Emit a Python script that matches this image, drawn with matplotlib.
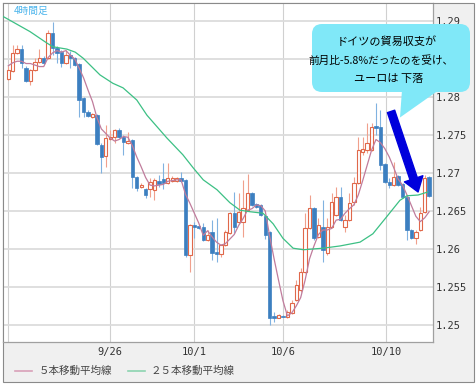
import numpy as np
import matplotlib.pyplot as plt
from matplotlib.patches import Rectangle, FancyBboxPatch, Polygon

plt.rcParams['font.family'] = ['Noto Sans CJK JP', 'DejaVu Sans']

# EUR/USD 4時間足
opens = [1.2824, 1.2834, 1.2858, 1.2863, 1.2838, 1.2821, 1.2836, 1.2846, 1.2851, 1.2851,
         1.2884, 1.2865, 1.2859, 1.2845, 1.2855, 1.2851, 1.2843, 1.2799, 1.2780, 1.2774,
         1.2776, 1.2737, 1.2722, 1.2745, 1.2747, 1.2757, 1.2747, 1.2740, 1.2743, 1.2695,
         1.2682, 1.2679, 1.2679, 1.2678, 1.2690, 1.2692, 1.2687, 1.2690, 1.2690, 1.2693,
         1.2691, 1.2592, 1.2632, 1.2630, 1.2629, 1.2612, 1.2622, 1.2596, 1.2593, 1.2605,
         1.2621, 1.2647, 1.2636, 1.2636, 1.2651, 1.2674, 1.2659, 1.2658, 1.2643, 1.2622,
         1.2512, 1.2509, 1.2512, 1.2511, 1.2516, 1.2533, 1.2546, 1.2570, 1.2628, 1.2654,
         1.2616, 1.2629, 1.2595, 1.2629, 1.2645, 1.2668, 1.2629, 1.2638, 1.2662, 1.2687,
         1.2728, 1.2730, 1.2730, 1.2762, 1.2761, 1.2712, 1.2688, 1.2684, 1.2696, 1.2686,
         1.2668, 1.2625, 1.2614, 1.2625, 1.2649, 1.2695]
closes = [1.2836, 1.2858, 1.2863, 1.2845, 1.2821, 1.2836, 1.2846, 1.2851, 1.2845, 1.2884,
          1.2865, 1.2858, 1.2845, 1.2855, 1.2851, 1.2842, 1.2796, 1.2780, 1.2775, 1.2778,
          1.2738, 1.2721, 1.2746, 1.2747, 1.2757, 1.2747, 1.2741, 1.2742, 1.2695, 1.2680,
          1.2684, 1.2671, 1.2688, 1.2691, 1.2686, 1.2687, 1.2693, 1.2693, 1.2693, 1.2690,
          1.2592, 1.2632, 1.2629, 1.2628, 1.2612, 1.2618, 1.2595, 1.2593, 1.2605, 1.2622,
          1.2647, 1.2629, 1.2649, 1.2654, 1.2674, 1.2658, 1.2655, 1.2645, 1.2618, 1.2509,
          1.2509, 1.2513, 1.2511, 1.2517, 1.2529, 1.2553, 1.2570, 1.2628, 1.2654, 1.2614,
          1.2632, 1.2599, 1.2629, 1.2662, 1.2668, 1.2638, 1.2638, 1.2661, 1.2687, 1.2730,
          1.2732, 1.2740, 1.2761, 1.2759, 1.2711, 1.2688, 1.2684, 1.2695, 1.2684, 1.2668,
          1.2625, 1.2614, 1.2622, 1.2647, 1.2693, 1.2670]
highs = [1.2841, 1.2868, 1.2868, 1.2868, 1.2841, 1.2837, 1.2851, 1.2863, 1.2854, 1.2888,
         1.2899, 1.2867, 1.2862, 1.2862, 1.2861, 1.2853, 1.2845, 1.2800, 1.2783, 1.2779,
         1.2778, 1.2740, 1.2763, 1.2757, 1.2758, 1.2759, 1.2750, 1.2754, 1.2745, 1.2696,
         1.2687, 1.2680, 1.2693, 1.2693, 1.2697, 1.2713, 1.2713, 1.2696, 1.2695, 1.2701,
         1.2692, 1.2633, 1.2636, 1.2632, 1.2634, 1.2625, 1.2638, 1.2641, 1.2607, 1.2625,
         1.2649, 1.2675, 1.2674, 1.2691, 1.2699, 1.2675, 1.2661, 1.2659, 1.2645, 1.2624,
         1.2517, 1.2515, 1.2513, 1.2520, 1.2533, 1.2559, 1.2575, 1.2647, 1.2671, 1.2655,
         1.2641, 1.2664, 1.2641, 1.2674, 1.2682, 1.2682, 1.2645, 1.2674, 1.2695, 1.2747,
         1.2747, 1.2766, 1.2766, 1.2792, 1.2783, 1.2713, 1.2693, 1.2715, 1.2697, 1.2687,
         1.2670, 1.2626, 1.2625, 1.2655, 1.2697, 1.2696]
lows = [1.2822, 1.2833, 1.2857, 1.2838, 1.2820, 1.2816, 1.2834, 1.2845, 1.2843, 1.2850,
        1.2855, 1.2845, 1.2840, 1.2843, 1.2838, 1.2841, 1.2774, 1.2774, 1.2774, 1.2772,
        1.2737, 1.2700, 1.2708, 1.2743, 1.2740, 1.2746, 1.2724, 1.2738, 1.2680, 1.2676,
        1.2680, 1.2667, 1.2668, 1.2665, 1.2682, 1.2679, 1.2686, 1.2688, 1.2688, 1.2688,
        1.2590, 1.2570, 1.2615, 1.2626, 1.2611, 1.2611, 1.2586, 1.2583, 1.2590, 1.2604,
        1.2620, 1.2621, 1.2634, 1.2616, 1.2650, 1.2657, 1.2654, 1.2643, 1.2613, 1.2500,
        1.2504, 1.2509, 1.2510, 1.2509, 1.2514, 1.2532, 1.2543, 1.2568, 1.2626, 1.2612,
        1.2614, 1.2583, 1.2592, 1.2628, 1.2643, 1.2637, 1.2622, 1.2637, 1.2658, 1.2686,
        1.2724, 1.2726, 1.2729, 1.2750, 1.2704, 1.2687, 1.2680, 1.2683, 1.2683, 1.2667,
        1.2612, 1.2613, 1.2607, 1.2624, 1.2647, 1.2668]

# 5本移動平均線
ma5 = [1.2841, 1.2845, 1.2847, 1.2847, 1.2844, 1.2844, 1.2842, 1.2840, 1.2840, 1.2852,
       1.2858, 1.2861, 1.2859, 1.2861, 1.2855, 1.2850, 1.2838, 1.2825, 1.2809, 1.2794,
       1.2773, 1.2758, 1.2752, 1.2746, 1.2742, 1.2744, 1.2748, 1.2747, 1.2736, 1.2721,
       1.2708, 1.2694, 1.2684, 1.2683, 1.2684, 1.2685, 1.2689, 1.2690, 1.2691, 1.2691,
       1.2672, 1.2660, 1.2647, 1.2634, 1.2618, 1.2624, 1.2616, 1.2609, 1.2605, 1.2607,
       1.2613, 1.2619, 1.2631, 1.2640, 1.2651, 1.2653, 1.2658, 1.2657, 1.2650, 1.2617,
       1.2587, 1.2559, 1.2532, 1.2512, 1.2516, 1.2525, 1.2536, 1.2559, 1.2587, 1.2604,
       1.2619, 1.2625, 1.2625, 1.2627, 1.2638, 1.2639, 1.2647, 1.2653, 1.2658, 1.2671,
       1.2690, 1.2710, 1.2730, 1.2744, 1.2740, 1.2732, 1.2721, 1.2707, 1.2692, 1.2684,
       1.2671, 1.2657, 1.2643, 1.2636, 1.2641, 1.2649]

# 25本移動平均線
ma25_pos = [-1.2, 4.9, 8.7, 10.1, 13.2, 15.1, 16.9, 20.7, 23.6, 25.9, 29.0, 31.3, 35.8,
            39.4, 41.7, 44.0, 47.1, 50.0, 52.3, 54.6, 57.5, 59.8, 62.0, 64.3, 66.6, 71.0,
            74.9, 79.4, 82.3, 85.5, 88.4, 90.0, 92.5, 94.7]
ma25 = [1.2906, 1.2886, 1.2871, 1.2866, 1.2863, 1.2859, 1.2851, 1.2829, 1.2818, 1.2812,
        1.2796, 1.2776, 1.2746, 1.2724, 1.2707, 1.2691, 1.2678, 1.2661, 1.2651, 1.2649,
        1.2647, 1.2633, 1.2614, 1.2601, 1.2599, 1.2601, 1.2604, 1.2609, 1.2620, 1.2643,
        1.2664, 1.2670, 1.2671, 1.2675]

date_pos = [0, 23, 41.9, 62, 85.3]
date_labels = ['', '9/26', '10/1', '10/6', '10/10']
price_ticks = [1.25, 1.255, 1.26, 1.265, 1.27, 1.275, 1.28, 1.285, 1.29]
# 1.285 is hidden behind the callout in the original
price_labels = ['1.25', '1.255', '1.26', '1.265', '1.27', '1.275', '1.28', '', '1.29']

W, H = 476, 386
fig = plt.figure(figsize=(W / 100, H / 100), dpi=100, facecolor='white')

# background panel
bg = fig.add_axes([0, 0, 1, 1], zorder=0)
bg.set_xlim(0, W)
bg.set_ylim(H, 0)
bg.axis('off')
bg.add_patch(Rectangle((2.5, 2.5), 471, 379, facecolor='#f0f0f0', edgecolor='#8a8a8a', lw=0.8))

ax = fig.add_axes([2.5 / W, (H - 341.7) / H, (433 - 2.5) / W, (341.7 - 2.5) / H], zorder=1)
ax.set_facecolor('white')

o = np.array(opens)
c = np.array(closes)
h = np.array(highs)
l = np.array(lows)
x = np.arange(len(o))
up = c >= o
bottom = np.minimum(o, c)
height = np.maximum(np.abs(c - o), 0.00004)

ax.vlines(x[up], l[up], h[up], color='#f0a08c', lw=0.8, zorder=2)
ax.vlines(x[~up], l[~up], h[~up], color='#80b2e0', lw=0.8, zorder=2)
ax.bar(x[up], height[up], bottom=bottom[up], width=0.76, facecolor='white',
       edgecolor='#e0684a', lw=0.8, zorder=3)
ax.bar(x[~up], height[~up], bottom=bottom[~up], width=0.76, facecolor='#3c7fc0',
       edgecolor='#3c7fc0', lw=0.5, zorder=3)

ax.plot(x, ma5, color='#c07c9c', lw=0.9, zorder=4)
ax.plot(ma25_pos, ma25, color='#3cc084', lw=0.9, zorder=4)

ax.annotate('', xy=(92.5, 1.2675), xytext=(86.4, 1.2781),
            arrowprops=dict(arrowstyle='simple,head_length=1.0,head_width=1.4,tail_width=0.55',
                            color='#0000dc', mutation_scale=10, shrinkA=0, shrinkB=0),
            zorder=6)

ax.set_xlim(-1.31, 95.87)
ax.set_ylim(1.2478, 1.29243)
ax.set_xticks(date_pos)
ax.set_xticklabels(date_labels, family='DejaVu Sans Mono', fontsize=7.5, color='#333333')
ax.yaxis.tick_right()
ax.set_yticks(price_ticks)
ax.set_yticklabels(price_labels, family='DejaVu Sans Mono', fontsize=7.5, color='#333333')
ax.tick_params(axis='x', length=0, pad=4)
ax.tick_params(axis='y', length=0, pad=2)
ax.set_axisbelow(True)
ax.grid(axis='y', color='#dcdcdc', lw=1.3)
ax.grid(axis='x', color='#d0d0d0', lw=0.8)
for side in ['left', 'top']:
    ax.spines[side].set_color('#8a8a8a')
    ax.spines[side].set_linewidth(0.8)
for side in ['right', 'bottom']:
    ax.spines[side].set_color('#a0a0a0')
    ax.spines[side].set_linewidth(0.9)

# overlay: label, callout, legend
ov = fig.add_axes([0, 0, 1, 1], zorder=5)
ov.set_xlim(0, W)
ov.set_ylim(H, 0)
ov.axis('off')
ov.patch.set_alpha(0)

ov.text(14, 11, '4時間足', color='#4ab4ec', fontsize=7, ha='left', va='center')

callout = '#80e8f8'
ov.add_patch(FancyBboxPatch((312, 24), 158, 68, boxstyle='round,pad=0,rounding_size=10',
                            facecolor=callout, edgecolor='none'))
ov.add_patch(Polygon([(402, 90), (439, 90), (400, 117.5)], closed=True,
                     facecolor=callout, edgecolor='none'))
ov.text(387, 42, 'ドイツの貿易収支が', fontsize=8, ha='center', va='center', color='black')
ov.text(381, 61, '前月比-5.8%だったのを受け、', fontsize=7.7, ha='center', va='center', color='black')
ov.text(389, 79, 'ユーロは 下落', fontsize=8, ha='center', va='center', color='black')

ov.plot([15, 32], [371, 371], color='#d8a0b8', lw=1.2)
ov.text(39, 371, '５本移動平均線', fontsize=7.6, ha='left', va='center', color='#444444')
ov.plot([128, 145], [371, 371], color='#8cd4b0', lw=1.2)
ov.text(151, 371, '２５本移動平均線', fontsize=7.6, ha='left', va='center', color='#444444')

fig.savefig('out.png', dpi=100)
